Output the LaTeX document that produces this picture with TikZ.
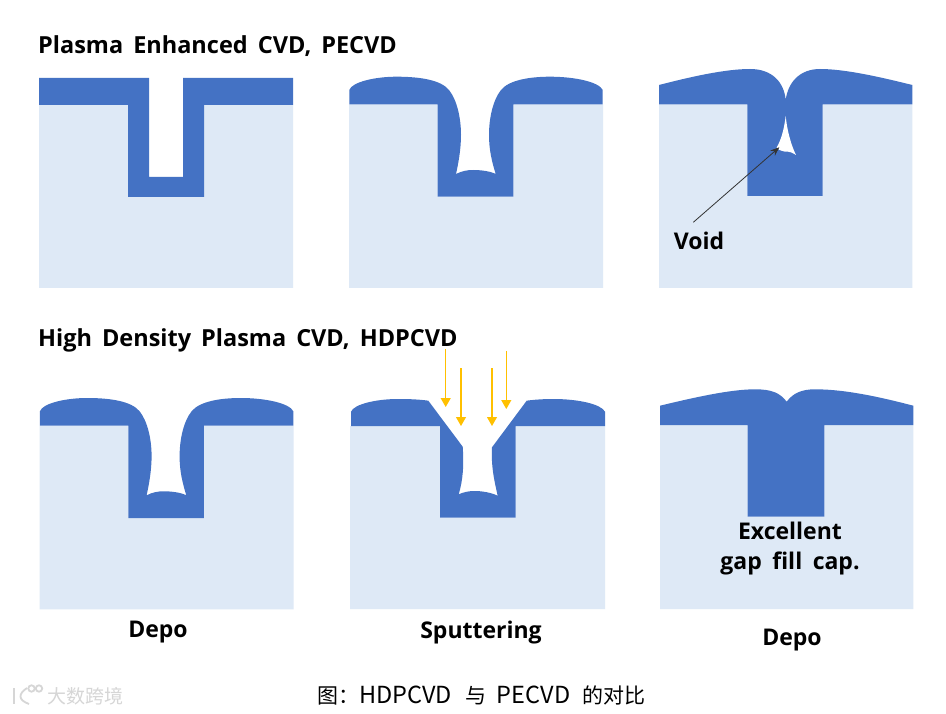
\documentclass[tikz,border=0pt]{standalone}
\usepackage{fontspec}
\setmainfont{Open Sans}
\newfontfamily\cjkfont{Noto Sans CJK SC}
\usetikzlibrary{arrows.meta}
\definecolor{filmblue}{HTML}{4472C4}
\definecolor{subblue}{HTML}{DEE9F6}
\definecolor{sputter}{HTML}{FFC000}
\newcommand{\caplatin}[1]{{\fontsize{23.5}{25}\selectfont #1}}
\newcommand{\titlefontx}{\fontsize{23.5}{28}\selectfont\bfseries\spaceskip 10pt\relax}
\newcommand{\labelfontx}{\fontsize{23}{28}\selectfont\bfseries\spaceskip 10.5pt\relax}
\tikzset{
  substrate/.style={fill=subblue,draw=none},
  film/.style={fill=filmblue,draw=none},
  title/.style={anchor=base west,inner sep=0pt,font=\titlefontx,text=black},
  label/.style={anchor=base,inner sep=0pt,font=\labelfontx,text=black},
  ionarrow/.style={draw=sputter,line width=1.1pt,-{Triangle[length=9pt,width=10pt,fill=sputter]}},
  pointer/.style={draw=black!80,line width=0.8pt,-{Stealth[length=9pt,width=7pt]}},
  wmark/.style={draw=black!16,line width=1.8pt,fill=none}
}
\newcommand{\depoprofile}[2]{%
  \begin{scope}[shift={(#1,#2)}]
    \fill[substrate] (349,104.3) -- (437.7,104.3) -- (437.7,196.7) -- (513.3,196.7) -- (513.3,104.3) -- (603,104.3) -- (603,288) -- (349,288) -- cycle;
    \fill[film] (349.3,104.3) -- (349.3,90)
      .. controls (352,82) and (375,76.7) .. (396.7,76.7)
      .. controls (420,76.7) and (441,80) .. (449,90)
      .. controls (457,100) and (461,118) .. (461,135)
      .. controls (461,150) and (458,165) .. (456,174)
      .. controls (462,171) and (467,170) .. (473.3,170)
      .. controls (480,170) and (490,171) .. (495.7,174)
      .. controls (492,162) and (489,150) .. (489,135)
      .. controls (489,118) and (493,100) .. (501,90)
      .. controls (509,80) and (530,76.7) .. (550,76.7)
      .. controls (575,76.7) and (599,82) .. (602.7,90)
      -- (602.7,104.3) -- (513.3,104.3) -- (513.3,196.7) -- (437.7,196.7) -- (437.7,104.3) -- cycle;
  \end{scope}}
\begin{document}
\begin{tikzpicture}[x=1pt,y=-1pt]
\useasboundingbox[fill=white] (0,0) rectangle (946,714);

% top-left
\fill[substrate] (39,105) -- (128,105) -- (128,197) -- (204,197) -- (204,105) -- (293,105) -- (293,288) -- (39,288) -- cycle;
\fill[film] (39,78) -- (149,78) -- (149,177) -- (183,177) -- (183,78) -- (293,78) -- (293,105) -- (204,105) -- (204,197) -- (128,197) -- (128,105) -- (39,105) -- cycle;

% top-middle and bottom-left
\depoprofile{0}{0}
\depoprofile{-309.4}{321.3}

% top-right
\fill[substrate] (659,104.3) -- (747.3,104.3) -- (747.3,196) -- (822.7,196) -- (822.7,104.3) -- (912.3,104.3) -- (912.3,288) -- (659,288) -- cycle;
\fill[film] (659,104.3) -- (659,85)
  .. controls (690,77) and (725,69) .. (750,69)
  .. controls (772,69) and (784,82) .. (785.7,100)
  .. controls (788,82) and (800,69) .. (820,69)
  .. controls (845,69) and (880,77) .. (912.3,85)
  -- (912.3,104.3) -- (822.7,104.3) -- (822.7,196) -- (747.3,196) -- (747.3,104.3) -- cycle;
\fill[white] (785.7,116) .. controls (784,130) and (781,140) .. (776.7,147.5)
  .. controls (780,152) and (783,150) .. (785,151.7)
  .. controls (789,151) and (793,153) .. (796,155)
  .. controls (791,145) and (787,130) .. (785.7,116) -- cycle;

% bottom-middle
\fill[substrate] (350,426) -- (440,426) -- (440,517.7) -- (515.7,517.7) -- (515.7,426) -- (605,426) -- (605,609) -- (350,609) -- cycle;
\fill[film] (351,426) -- (351,411.7)
  .. controls (354,404) and (377,399) .. (398,399)
  .. controls (410,399) and (420,399.5) .. (428.3,400.7)
  -- (462.7,446.7)
  .. controls (464,465) and (463,480) .. (458.7,494.3)
  .. controls (464,492) and (469,491) .. (474.3,491)
  .. controls (482,491) and (491,492.5) .. (497.7,495.7)
  .. controls (494,480) and (491,465) .. (492,447.3)
  -- (526.7,400.7)
  .. controls (535,399.5) and (545,399) .. (553,399)
  .. controls (578,399) and (601,404) .. (605,411.7)
  -- (605,426) -- (515.7,426) -- (515.7,517.7) -- (440,517.7) -- (440,426) -- cycle;

% bottom-right
\fill[substrate] (660,425) -- (747.7,425) -- (747.7,516.7) -- (824.3,516.7) -- (824.3,425) -- (913.3,425) -- (913.3,609) -- (660,609) -- cycle;
\fill[film] (660,425) -- (660,405.7)
  .. controls (692,398) and (730,389.3) .. (755,389.3)
  .. controls (772,389.3) and (780,393) .. (786.7,401.7)
  .. controls (793,393) and (802,389.3) .. (815,389.3)
  .. controls (845,389.3) and (880,397) .. (913.3,405.7)
  -- (913.3,425) -- (824.3,425) -- (824.3,516.7) -- (747.7,516.7) -- (747.7,425) -- cycle;

% sputtering arrows
\coordinate (a1s) at (445.7,349); \coordinate (a1e) at (445.7,407);
\coordinate (a2s) at (461,368);   \coordinate (a2e) at (461,426);
\coordinate (a3s) at (492,368);   \coordinate (a3e) at (492,426);
\coordinate (a4s) at (506.3,351); \coordinate (a4e) at (506.3,409);
\draw[ionarrow] (a1s) -- (a1e);
\draw[ionarrow] (a2s) -- (a2e);
\draw[ionarrow] (a3s) -- (a3e);
\draw[ionarrow] (a4s) -- (a4e);

% void pointer
\coordinate (vs) at (693.3,222.3);
\coordinate (ve) at (779.3,147.3);
\draw[pointer] (vs) -- (ve);

% texts
\node[title] (t1) at (38,54) {Plasma Enhanced CVD, PECVD};
\node[title] (t2) at (38,346) {High Density Plasma CVD, HDPCVD};
\node[label] (void) at (699,250) {Void};
\node[label] (exc) at (790,539) {Excellent};
\node[label] (gap) at (790,569) {gap fill cap.};
\node[label] (d1) at (158,637) {Depo};
\node[label] (sp) at (481,638) {Sputtering};
\node[label] (d2) at (792,645) {Depo};
\node[anchor=base west,inner sep=0pt,font=\cjkfont\fontsize{21}{25}\selectfont,text=black] (cap) at (317,703) {图：\caplatin{HDPCVD}\hspace{14pt}与\hspace{10pt}\caplatin{PECVD}\hspace{12pt}的对比};
% watermark
\node[anchor=base west,inner sep=0pt,font=\cjkfont\fontsize{19}{22}\selectfont,text=black!16] (wm) at (47,703) {大数跨境};
\draw[wmark] (14,688) -- (14,704);
\draw[wmark] (27,688) .. controls (18,694) and (18,700) .. (29,704);
\draw[wmark] (31.5,688.5) circle (3.2);
\draw[wmark] (39,688.5) circle (3.2);
\end{tikzpicture}
\end{document}
